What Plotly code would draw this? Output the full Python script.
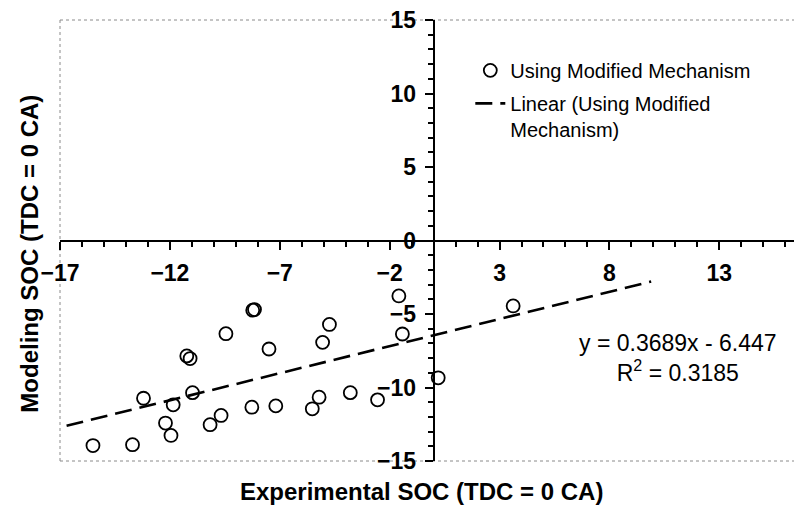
import numpy as np
import plotly.graph_objects as go

# ---- data ----
x_exp = [-15.5, -13.7, -13.2, -12.2, -11.95, -11.85, -11.23, -11.08, -10.97,
         -10.17, -9.67, -9.45, -8.27, -8.23, -8.15, -7.49, -7.18, -5.52,
         -5.21, -5.05, -4.74, -3.79, -2.55, -1.58, -1.42, 0.21, 3.62]
y_model = [-13.95, -13.89, -10.73, -12.42, -13.26, -11.18, -7.85, -8.03, -10.35,
           -12.53, -11.9, -6.34, -11.34, -4.74, -4.70, -7.38, -11.25, -11.45,
           -10.66, -6.93, -5.71, -10.35, -10.84, -3.77, -6.36, -9.34, -4.45]
slope = 0.3689
intercept = -6.447
r_squared = 0.3185
trend_range = [-16.7, 9.9]

series_name = "Using Modified Mechanism"
trend_name = "Linear (Using Modified<br>Mechanism)"
x_title = "Experimental SOC (TDC = 0 CA)"
y_title = "Modeling SOC (TDC = 0 CA)"

x_range = [-17, 16.4]
y_range = [-15, 15]

FONT = "Arial, Liberation Sans, sans-serif"

tx = np.array(trend_range)
ty = slope * tx + intercept

fig = go.Figure()
fig.add_trace(go.Scatter(
    x=x_exp, y=y_model, mode="markers", name=series_name, legendgroup="a",
    marker=dict(symbol="circle-open", size=13, color="black", line=dict(width=1.8)),
))
fig.add_trace(go.Scatter(
    x=tx, y=ty, mode="lines", name=trend_name, legendgroup="b",
    line=dict(color="black", width=2.6, dash="17px,8px"),
))

ypos = (0 - y_range[0]) / (y_range[1] - y_range[0])
xpos = (0 - x_range[0]) / (x_range[1] - x_range[0])

fig.update_layout(
    width=794, height=507,
    margin=dict(l=60, r=0, t=20, b=46),
    paper_bgcolor="white", plot_bgcolor="white",
    font=dict(family=FONT, color="black"),
    showlegend=True,
    legend=dict(x=0.559, y=0.93, xanchor="left", yanchor="top",
                font=dict(family=FONT, size=20, color="black"),
                bgcolor="rgba(0,0,0,0)", borderwidth=0,
                traceorder="grouped", tracegroupgap=4, valign="top"),
    xaxis=dict(range=x_range, anchor="free", position=ypos,
               showline=True, linecolor="black", linewidth=2,
               showgrid=False, zeroline=False,
               tick0=-17, dtick=5, ticks="outside", ticklen=8, tickwidth=2,
               tickcolor="black", ticklabelstandoff=4,
               minor=dict(dtick=1, ticks="outside", ticklen=5, tickwidth=1.5,
                          tickcolor="black", showgrid=False),
               tickfont=dict(family=FONT, size=23, color="black", weight="bold")),
    yaxis=dict(range=y_range, anchor="free", position=xpos,
               showline=True, linecolor="black", linewidth=2,
               showgrid=False, zeroline=False,
               tick0=0, dtick=5, ticks="outside", ticklen=8, tickwidth=2,
               tickcolor="black", ticklabelstandoff=4,
               minor=dict(dtick=1, ticks="outside", ticklen=5, tickwidth=1.5,
                          tickcolor="black", showgrid=False),
               tickfont=dict(family=FONT, size=23, color="black", weight="bold")),
)

# dotted plot-area frame
for (x0, y0, x1, y1) in [(0, 1, 1, 1), (0, 0, 1, 0), (0, 0, 0, 1)]:
    fig.add_shape(type="line", xref="paper", yref="paper", x0=x0, y0=y0, x1=x1, y1=y1,
                  line=dict(color="#8a8a8a", width=1, dash="dot"), layer="below")

# axis titles
fig.add_annotation(text=x_title, xref="paper", yref="paper", x=0.4925, y=-0.07,
                   xanchor="center", yanchor="middle", showarrow=False,
                   font=dict(family=FONT, size=24, color="black", weight="bold"))
fig.add_annotation(text=y_title, xref="paper", yref="paper", x=-0.041, y=0.47,
                   xanchor="center", yanchor="middle", showarrow=False, textangle=-90,
                   font=dict(family=FONT, size=24, color="black", weight="bold"))

# trendline equation
eq_text = f"y = {slope}x - {abs(intercept)}<br>R<sup>2</sup> = {r_squared}"
fig.add_annotation(text=eq_text, x=11.14, y=-8.0, align="center",
                   xanchor="center", yanchor="middle", showarrow=False,
                   font=dict(family=FONT, size=23, color="black"))

fig.write_html("out.html")
